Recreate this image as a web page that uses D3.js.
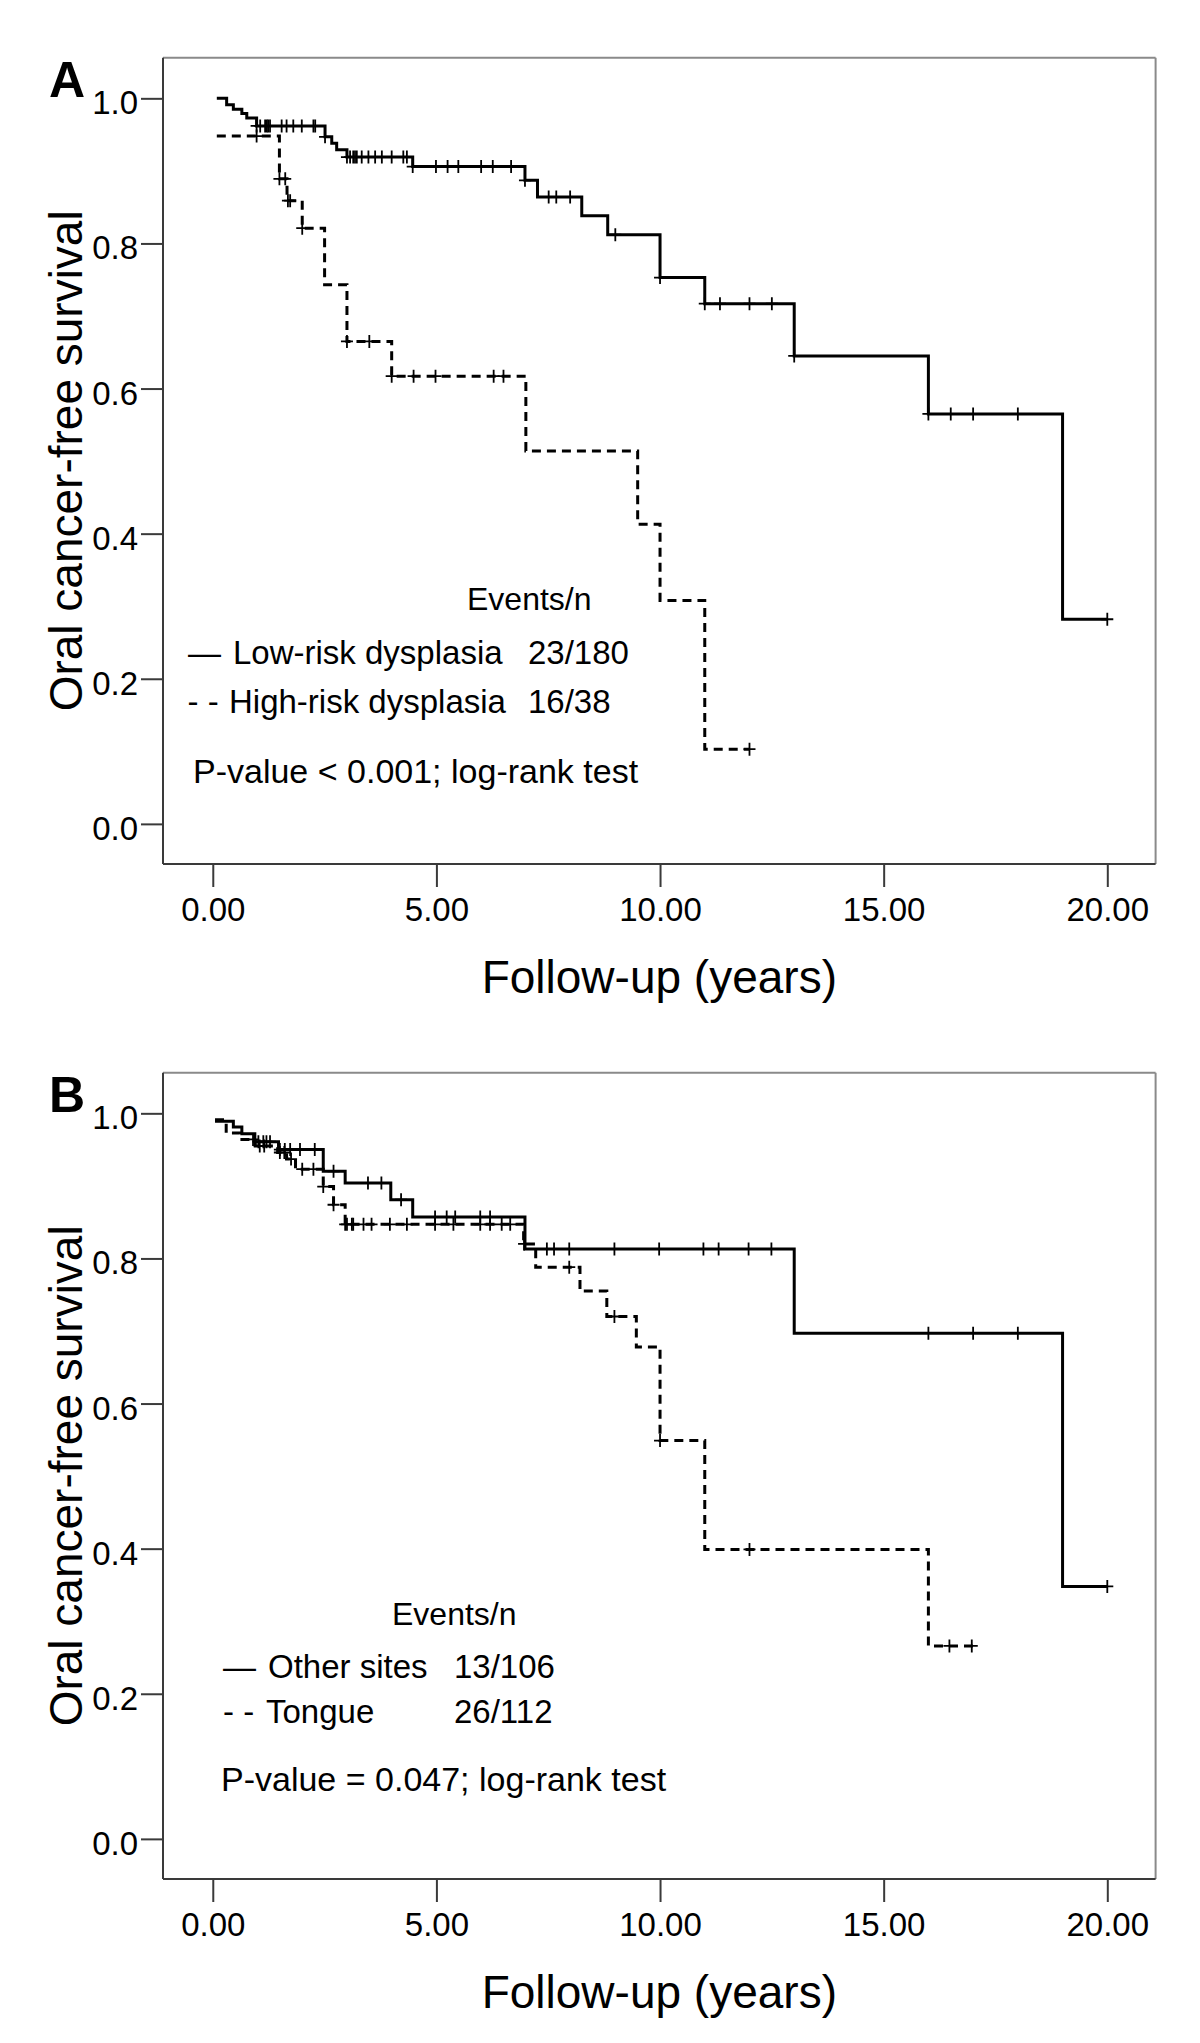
<!DOCTYPE html>
<html><head><meta charset="utf-8">
<script src="https://cdn.jsdelivr.net/npm/d3@7"></script>
<style>
body{margin:0;background:#fff}
svg{display:block}
text{font-family:"Liberation Sans",Arial,Helvetica,sans-serif;fill:#000}
</style>
</head><body>
<svg id="chart" width="1200" height="2043"></svg>
<script>
// ---------- Data ----------
const xTicks = [0, 5, 10, 15, 20];
const yTicks = [0, 0.2, 0.4, 0.6, 0.8, 1.0];
const yTitle = "Oral cancer-free survival";
const xTitle = "Follow-up (years)";
const eventsHeader = "Events/n";

// Panel A: Low-risk dysplasia (solid)
const aLowTime = [0.09, 0.31, 0.46, 0.65, 0.76, 0.98, 2.51, 2.66, 2.77, 3.0, 4.47, 6.98, 7.26, 8.25, 8.83, 10.0, 11.0, 13.0, 16.0, 19.0, 20.0];
const aLowSurv = [1.0, 0.991, 0.985, 0.979, 0.973, 0.962, 0.947, 0.938, 0.929, 0.919, 0.906, 0.887, 0.864, 0.838, 0.812, 0.753, 0.717, 0.645, 0.565, 0.282, 0.282];
const aLowCens = [0.98, 1.06, 1.17, 1.21, 1.24, 1.28, 1.54, 1.65, 1.80, 1.99, 2.25, 2.29, 2.51, 3.0, 3.07, 3.14, 3.18, 3.22, 3.33, 3.48, 3.63, 3.78, 4.0, 4.26, 4.34, 4.47, 4.99, 5.25, 5.49, 6.0, 6.26, 6.67, 6.98, 7.51, 7.68, 7.99, 9.0, 10.0, 11.0, 11.34, 12.0, 12.5, 13.0, 16.0, 16.5, 17.0, 18.0, 20.0];
// Panel A: High-risk dysplasia (dashed)
const aHighTime = [0.09, 1.49, 1.66, 2.0, 2.5, 3.0, 4.0, 7.0, 9.5, 10.0, 11.0, 12.0];
const aHighSurv = [0.948, 0.889, 0.859, 0.821, 0.743, 0.665, 0.617, 0.514, 0.413, 0.308, 0.103, 0.103];
const aHighCens = [0.98, 1.49, 1.62, 1.68, 1.73, 2.0, 3.0, 3.5, 4.0, 4.49, 4.98, 6.28, 6.5, 12.0];
const aLabels = ["Low-risk dysplasia", "High-risk dysplasia"];
const aCounts = ["23/180", "16/38"];
const aPvalue = "P-value < 0.001; log-rank test";

// Panel B: Other sites (solid)
const bOtherTime = [0.05, 0.46, 0.65, 0.94, 1.47, 2.47, 2.96, 3.98, 4.47, 6.98, 13.0, 19.0, 20.0];
const bOtherSurv = [0.989, 0.981, 0.972, 0.961, 0.950, 0.920, 0.904, 0.881, 0.857, 0.813, 0.697, 0.348, 0.348];
const bOtherCens = [1.02, 1.13, 1.2, 1.28, 1.5, 1.61, 1.73, 1.95, 2.28, 2.7, 3.47, 3.77, 4.21, 4.97, 5.23, 5.42, 5.98, 6.2, 7.47, 7.63, 7.97, 8.98, 9.98, 10.97, 11.31, 11.98, 12.49, 16.0, 17.0, 18.0, 20.0];
// Panel B: Tongue (dashed)
const bTongueTime = [0.05, 0.30, 0.60, 0.95, 1.45, 1.65, 1.85, 2.47, 2.70, 2.96, 6.95, 7.22, 8.21, 8.81, 9.47, 10.0, 11.0, 16.0, 17.1];
const bTongueSurv = [0.991, 0.973, 0.964, 0.955, 0.946, 0.937, 0.923, 0.899, 0.874, 0.847, 0.820, 0.788, 0.755, 0.720, 0.678, 0.549, 0.399, 0.266, 0.266];
const bTongueCens = [0.9, 1.05, 1.15, 1.5, 1.6, 1.75, 2.0, 2.25, 2.47, 2.70, 2.96, 3.0, 3.11, 3.14, 3.37, 3.55, 3.96, 4.34, 4.97, 5.38, 5.98, 6.2, 6.46, 6.65, 6.96, 7.97, 8.98, 10.0, 12.0, 16.47, 16.97];
const bLabels = ["Other sites", "Tongue"];
const bCounts = ["13/106", "26/112"];
const bPvalue = "P-value = 0.047; log-rank test";

// ---------- Layout ----------
const svg = d3.select("#chart");
const frame = {left: 163, right: 1155.6, top: 57.7, bottom: 864};
const x = d3.scaleLinear().domain([-1.113, 21.08]).range([frame.left, frame.right]);
const y = d3.scaleLinear().domain([-0.0553, 1.056]).range([frame.bottom, frame.top]);

const panels = [
  {letter: "A", dy: 0,
   curves: [{t: aLowTime, s: aLowSurv, c: aLowCens, dash: null},
            {t: aHighTime, s: aHighSurv, c: aHighCens, dash: "9,6"}],
   labels: aLabels, counts: aCounts, pval: aPvalue,
   leg: {evX: 467, evY: 610, dashX: [188, 187.5], labX: [233, 229], cntX: 528, rowY: [664, 713], pX: 193, pY: 783, rowFs: 33}},
  {letter: "B", dy: 1015,
   curves: [{t: bOtherTime, s: bOtherSurv, c: bOtherCens, dash: null},
            {t: bTongueTime, s: bTongueSurv, c: bTongueCens, dash: "9,6"}],
   labels: bLabels, counts: bCounts, pval: bPvalue,
   leg: {evX: 392, evY: 610, dashX: [223, 223], labX: [268, 266], cntX: 454, rowY: [663, 708], pX: 221, pY: 776, rowFs: 33}}
];

const line = d3.line().x(d => x(d[0])).y(d => y(d[1])).curve(d3.curveStepAfter);

function survAt(t, times, surv) {
  let v = surv[0];
  for (let i = 0; i < times.length; i++) { if (times[i] <= t + 1e-9) v = surv[i]; }
  return v;
}

panels.forEach(p => {
  const g = svg.append("g").attr("transform", `translate(0,${p.dy})`);

  // frame
  g.append("line").attr("x1", frame.left).attr("x2", frame.right).attr("y1", frame.top).attr("y2", frame.top)
    .attr("stroke", "#8a8a8a").attr("stroke-width", 2);
  g.append("line").attr("x1", frame.right).attr("x2", frame.right).attr("y1", frame.top).attr("y2", frame.bottom)
    .attr("stroke", "#8a8a8a").attr("stroke-width", 2);
  g.append("line").attr("x1", frame.left).attr("x2", frame.left).attr("y1", frame.top).attr("y2", frame.bottom)
    .attr("stroke", "#3a3a3a").attr("stroke-width", 2);
  g.append("line").attr("x1", frame.left).attr("x2", frame.right).attr("y1", frame.bottom).attr("y2", frame.bottom)
    .attr("stroke", "#3a3a3a").attr("stroke-width", 2);

  // y axis
  const ya = g.append("g").attr("transform", `translate(${frame.left},0)`)
    .call(d3.axisLeft(y).tickValues(yTicks).tickFormat(d3.format(".1f")).tickSize(22).tickPadding(3));
  ya.select(".domain").remove();
  ya.selectAll(".tick line").attr("stroke", "#3a3a3a").attr("stroke-width", 2);
  ya.selectAll(".tick text").attr("font-size", 33).attr("font-family", "Liberation Sans, Arial, sans-serif")
    .attr("fill", "#111").attr("dy", "0.47em");

  // x axis
  const xa = g.append("g").attr("transform", `translate(0,${frame.bottom})`)
    .call(d3.axisBottom(x).tickValues(xTicks).tickFormat(d3.format(".2f")).tickSize(23).tickPadding(11));
  xa.select(".domain").remove();
  xa.selectAll(".tick line").attr("stroke", "#3a3a3a").attr("stroke-width", 2);
  xa.selectAll(".tick text").attr("font-size", 33).attr("font-family", "Liberation Sans, Arial, sans-serif")
    .attr("fill", "#111");

  // titles
  g.append("text").attr("transform", `translate(82,${(frame.top + frame.bottom) / 2}) rotate(-90)`)
    .attr("text-anchor", "middle").attr("font-size", 46).text(yTitle);
  g.append("text").attr("x", (frame.left + frame.right) / 2).attr("y", 993)
    .attr("text-anchor", "middle").attr("font-size", 46).text(xTitle);
  g.append("text").attr("x", 49).attr("y", 97).attr("font-size", 50).attr("font-weight", "bold").text(p.letter);

  // curves
  p.curves.forEach(c => {
    const pts = c.t.map((t, i) => [t, c.s[i]]);
    g.append("path").attr("d", line(pts)).attr("fill", "none").attr("stroke", "#000")
      .attr("stroke-width", 3).attr("stroke-dasharray", c.dash);
    const cg = g.append("g");
    c.c.forEach(ct => {
      const cx = x(ct), cy = y(survAt(ct, c.t, c.s));
      cg.append("path").attr("d", `M${cx - 6},${cy}H${cx + 6}M${cx},${cy - 6.5}V${cy + 6.5}`)
        .attr("stroke", "#000").attr("stroke-width", 1.8).attr("fill", "none");
    });
  });

  // legend
  const L = p.leg;
  g.append("text").attr("x", L.evX).attr("y", L.evY).attr("font-size", 32).text(eventsHeader);
  const glyphs = ["\u2014", "- -"];
  p.labels.forEach((lab, i) => {
    g.append("text").attr("x", L.dashX[i]).attr("y", L.rowY[i]).attr("font-size", L.rowFs).text(glyphs[i]);
    g.append("text").attr("x", L.labX[i]).attr("y", L.rowY[i]).attr("font-size", L.rowFs).text(lab);
    g.append("text").attr("x", L.cntX).attr("y", L.rowY[i]).attr("font-size", L.rowFs).text(p.counts[i]);
  });
  g.append("text").attr("x", L.pX).attr("y", L.pY).attr("font-size", 34).text(p.pval);
});
</script>
</body></html>
